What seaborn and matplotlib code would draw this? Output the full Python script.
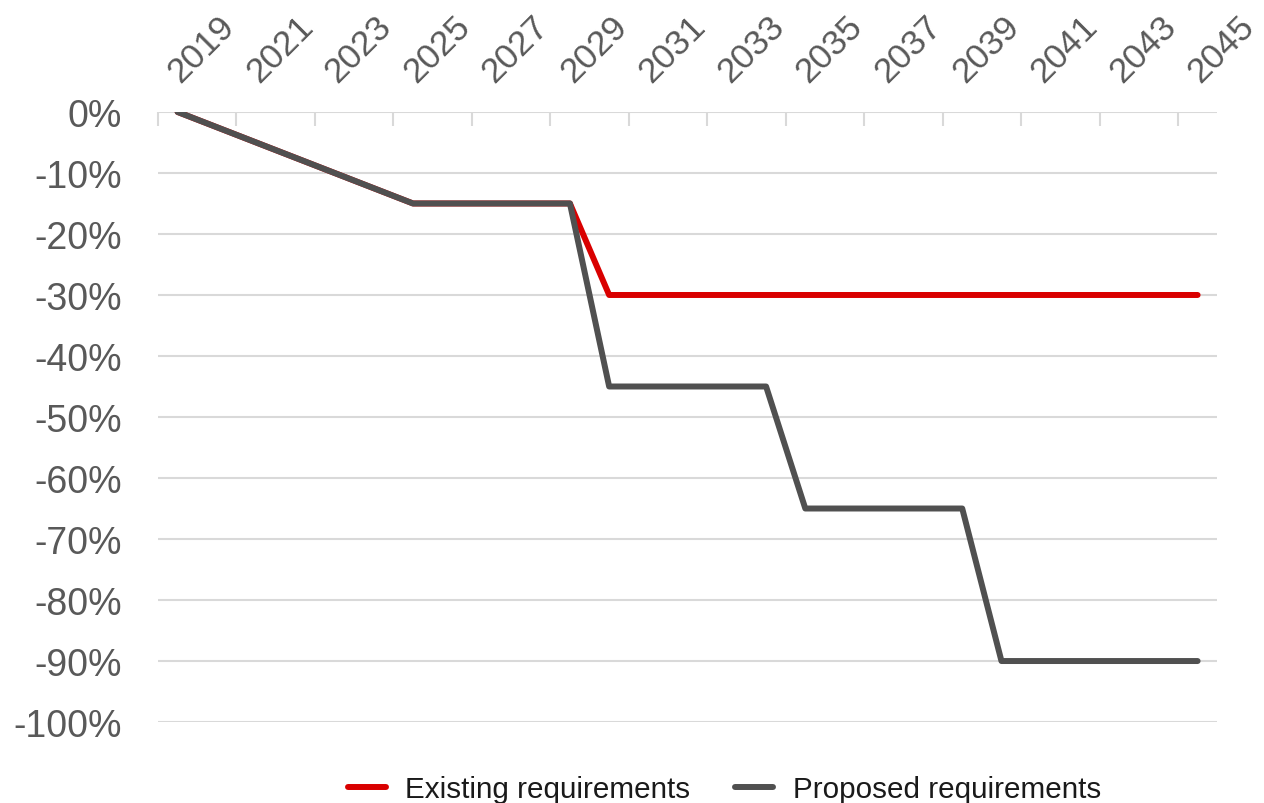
import numpy as np
import pandas as pd
import matplotlib
matplotlib.use('Agg')
import matplotlib.pyplot as plt
import matplotlib.transforms as mtransforms
import seaborn as sns

# data
years = list(range(2019, 2046))
existing = [0, -2.5, -5, -7.5, -10, -12.5, -15, -15, -15, -15, -15,
            -30, -30, -30, -30, -30, -30, -30, -30, -30, -30,
            -30, -30, -30, -30, -30, -30]
proposed = [0, -2.5, -5, -7.5, -10, -12.5, -15, -15, -15, -15, -15,
            -45, -45, -45, -45, -45, -65, -65, -65, -65, -65,
            -90, -90, -90, -90, -90, -90]
labels = ['Existing requirements', 'Proposed requirements']
colors = ['#D90000', '#505050']

df = pd.DataFrame({'idx': np.arange(len(years)),
                   labels[0]: existing, labels[1]: proposed})
long_df = df.melt(id_vars='idx', var_name='series', value_name='value')

sns.set_style('white')
plt.rcParams['font.family'] = ['Liberation Sans', 'DejaVu Sans']

fig = plt.figure(figsize=(12.64, 8.04), dpi=100)
ax = fig.add_axes([0.125, 0.1007, 0.838, 0.7588])

sns.lineplot(data=long_df, x='idx', y='value', hue='series',
             palette=colors, linewidth=4.3, ax=ax, legend=False)

ax.set_xlim(-0.5, len(years) - 0.5)
ax.set_ylim(-100, 0)
ax.set_yticks(np.arange(-100, 1, 10))
ax.set_yticklabels([f'{v}%' for v in range(-100, 1, 10)])
ax.grid(axis='y', color='#D9D9D9', linewidth=1.5)
ax.grid(axis='x', visible=False)

# category labels every other year, boundaries as minor ticks
ax.set_xticks(np.arange(0, len(years), 2))
ax.set_xticklabels([str(y) for y in years[::2]])
ax.set_xticks(np.arange(-0.5, len(years), 2), minor=True)
ax.xaxis.set_ticks_position('top')
ax.tick_params(axis='x', which='major', length=0, pad=21, labelsize=25.5,
               labelcolor='#595959', labeltop=True, labelbottom=False)
ax.tick_params(axis='x', which='minor', length=10, width=1.5,
               direction='in', color='#D9D9D9', top=True, bottom=False)
shift = mtransforms.ScaledTranslation(3 / 100, 0, fig.dpi_scale_trans)
for lbl in ax.get_xticklabels():
    lbl.set_rotation(45)
    lbl.set_ha('left')
    lbl.set_va('baseline')
    lbl.set_rotation_mode('anchor')
    lbl.set_transform(lbl.get_transform() + shift)
ax.tick_params(axis='y', length=0, pad=26, labelsize=27, labelcolor='#595959')

for s in ['left', 'right', 'bottom', 'top']:
    ax.spines[s].set_visible(False)
ax.set_xlabel('')
ax.set_ylabel('')

handles = [plt.Line2D([], [], color=c, linewidth=4.3) for c in colors]
fig.legend(handles, labels, loc='lower center', bbox_to_anchor=(0.573, -0.033),
           ncol=2, frameon=False, fontsize=21.3, handlelength=1.3,
           columnspacing=1.5, handletextpad=0.65)
for t in fig.legends[0].get_texts():
    t.set_color('#1a1a1a')

fig.savefig('out.png', dpi=100)
